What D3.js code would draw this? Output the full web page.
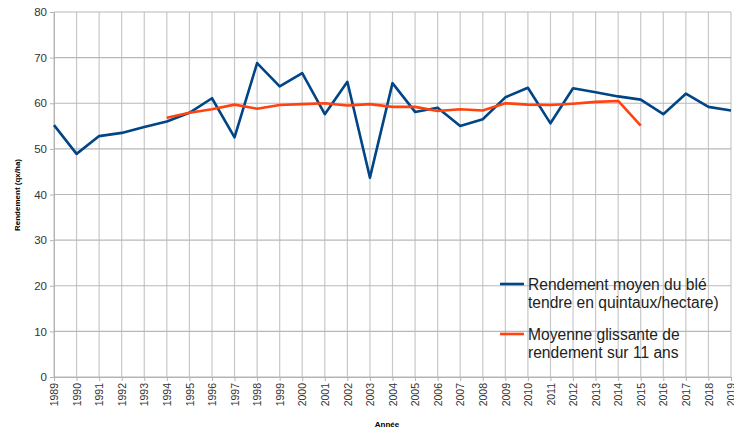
<!DOCTYPE html>
<html>
<head>
  <meta charset="utf-8">
  <style>
    body { margin: 0; background: #fff; }
    text { font-family: "Liberation Sans", Arial, sans-serif; }
  </style>
</head>
<body>
  <svg id="chart" width="734" height="437"></svg>
  <script src="https://d3js.org/d3.v7.min.js"></script>
  <script>
    // years on the x axis
    var years = d3.range(1989, 2020);

    // rendement moyen (qx/ha), 1989 -> 2019
    var rendement = [55.2, 48.9, 52.8, 53.5, 54.8, 56.0, 57.9, 61.1, 52.5, 68.8,
                     63.7, 66.6, 57.6, 64.7, 43.7, 64.4, 58.1, 59.0, 55.0, 56.5,
                     61.3, 63.4, 55.6, 63.3, 62.4, 61.5, 60.8, 57.6, 62.1, 59.2, 58.4];

    // moyenne glissante 11 ans, 1994 -> 2015
    var moyenneYears = d3.range(1994, 2016);
    var moyenne = [56.8, 57.9, 58.7, 59.7, 58.8, 59.6, 59.8, 60.0, 59.5, 59.8,
                   59.2, 59.2, 58.3, 58.7, 58.4, 60.0, 59.7, 59.6, 59.9, 60.3, 60.5, 55.1];

    var yTicks = [0, 10, 20, 30, 40, 50, 60, 70, 80];

    var legendLabels = [
      ["Rendement moyen du blé", "tendre en quintaux/hectare)"],
      ["Moyenne glissante de", "rendement sur 11 ans"]
    ];
    var colors = ["#004586", "#ff420e"];

    var svg = d3.select("#chart");

    var x = d3.scaleLinear().domain([1989, 2019]).range([54, 731]);
    var y = d3.scaleLinear().domain([0, 80]).range([377, 12]);

    // grid
    svg.append("g")
      .selectAll("line.v")
      .data(years)
      .join("line")
      .attr("x1", d => x(d)).attr("x2", d => x(d))
      .attr("y1", y(80)).attr("y2", y(0))
      .attr("stroke", "#c8c8c8").attr("stroke-width", 1.2);

    svg.append("g")
      .selectAll("line.h")
      .data(yTicks)
      .join("line")
      .attr("x1", x(1989)).attr("x2", x(2019))
      .attr("y1", d => y(d)).attr("y2", d => y(d))
      .attr("stroke", "#b8b8b8").attr("stroke-width", 1.2);

    // y axis
    var yAxis = svg.append("g")
      .attr("transform", "translate(" + x(1989) + ",0)")
      .call(d3.axisLeft(y).tickValues(yTicks).tickSize(4).tickPadding(3));
    yAxis.select(".domain").attr("stroke", "#b3b3b3");
    yAxis.selectAll(".tick line").attr("stroke", "#b3b3b3");
    yAxis.selectAll("text")
      .attr("font-size", "11.5px")
      .attr("fill", "#333")
      .style("font-family", "Liberation Sans, Arial, sans-serif");

    // x axis
    var xAxis = svg.append("g")
      .attr("transform", "translate(0," + y(0) + ")")
      .call(d3.axisBottom(x).tickValues(years).tickFormat(d3.format("d")).tickSize(4));
    xAxis.select(".domain").attr("stroke", "#b3b3b3");
    xAxis.selectAll(".tick line").attr("stroke", "#b3b3b3");
    xAxis.selectAll("text")
      .attr("font-size", "10.5px")
      .attr("fill", "#333")
      .style("font-family", "Liberation Sans, Arial, sans-serif")
      .attr("transform", "rotate(-90)")
      .attr("x", -6)
      .attr("y", 0)
      .attr("dy", "0.35em")
      .style("text-anchor", "end");

    // axis titles
    svg.append("text")
      .attr("transform", "translate(20,195) rotate(-90)")
      .attr("text-anchor", "middle")
      .attr("font-size", "8px")
      .attr("font-weight", "bold")
      .text("Rendement (qx/ha)");

    svg.append("text")
      .attr("x", 387).attr("y", 427)
      .attr("text-anchor", "middle")
      .attr("font-size", "8px")
      .attr("font-weight", "bold")
      .text("Année");

    // lines
    var line = d3.line().x(d => x(d[0])).y(d => y(d[1]));

    svg.append("path")
      .datum(years.map((yr, i) => [yr, rendement[i]]))
      .attr("fill", "none")
      .attr("stroke", colors[0])
      .attr("stroke-width", 2.6)
      .attr("stroke-linejoin", "round")
      .attr("d", line);

    svg.append("path")
      .datum(moyenneYears.map((yr, i) => [yr, moyenne[i]]))
      .attr("fill", "none")
      .attr("stroke", colors[1])
      .attr("stroke-width", 2.6)
      .attr("stroke-linejoin", "round")
      .attr("d", line);

    // legend
    var legend = svg.append("g").attr("transform", "translate(500,284)");
    legendLabels.forEach(function (lines, i) {
      var g = legend.append("g").attr("transform", "translate(0," + (i * 50) + ")");
      g.append("line")
        .attr("x1", 0).attr("x2", 24)
        .attr("y1", 0).attr("y2", 0)
        .attr("stroke", colors[i]).attr("stroke-width", 2.6);
      lines.forEach(function (t, j) {
        g.append("text")
          .attr("x", 28).attr("y", 6 + j * 17.5)
          .attr("font-size", "15.6px")
          .attr("fill", "#222")
          .text(t);
      });
    });
  </script>
</body>
</html>
